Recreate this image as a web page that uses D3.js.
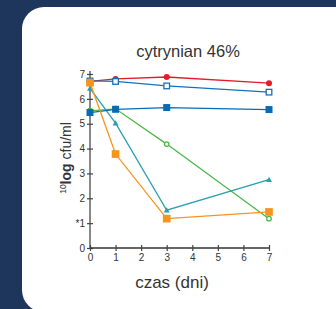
<!DOCTYPE html>
<html>
<head>
<meta charset="utf-8">
<script src="https://cdn.jsdelivr.net/npm/d3@7"></script>
<style>
  body { margin: 0; background: #1f365c; }
  svg { display: block; font-family: "Liberation Sans", Arial, sans-serif; }
</style>
</head>
<body>
<div id="chart"></div>
<script>
const days = [0, 1, 3, 7];
const xTicks = [0, 1, 2, 3, 4, 5, 6, 7];
const yTicks = [0, 1, 2, 3, 4, 5, 6, 7];
const yTickLabels = ['0', '*1', '2', '3', '4', '5', '6', '7'];

const redCircles = [6.7, 6.8, 6.88, 6.63];
const blueOpenSquares = [6.72, 6.7, 6.52, 6.27];
const blueSquares = [5.45, 5.58, 5.65, 5.57];
const greenOpenCircles = [5.52, 5.6, 4.18, 1.18];
const tealTriangles = [6.42, 5.02, 1.52, 2.75];
const orangeSquares = [6.65, 3.78, 1.18, 1.45];

const series = [
  { values: greenOpenCircles, color: '#4db848', shape: 'circle', open: true, size: 2.3 },
  { values: tealTriangles, color: '#2a9fb0', shape: 'triangle', open: false, size: 3 },
  { values: redCircles, color: '#e8192c', shape: 'circle', open: false, size: 3 },
  { values: blueOpenSquares, color: '#1a6fb8', shape: 'square', open: true, size: 4 },
  { values: blueSquares, color: '#0a6bb5', shape: 'square', open: false, size: 5 },
  { values: orangeSquares, color: '#f7941d', shape: 'square', open: false, size: 5.5 }
];

const W = 336, H = 309;
const svg = d3.select('#chart').append('svg').attr('width', W).attr('height', H);

// white card
svg.append('rect')
  .attr('x', 22).attr('y', 7).attr('width', 340).attr('height', 305)
  .attr('rx', 22).attr('fill', '#ffffff');

const x = d3.scaleLinear().domain([0, 7]).range([90, 269]);
const y = d3.scaleLinear().domain([0, 7]).range([248, 74]);

// title
svg.append('text').attr('x', 188).attr('y', 57).attr('text-anchor', 'middle')
  .attr('font-size', 16.5).attr('fill', '#333').text('cytrynian 46%');

// axes
const yAxis = svg.append('g').attr('transform', 'translate(90,0)')
  .call(d3.axisLeft(y).tickValues(yTicks).tickFormat((d, i) => yTickLabels[i]).tickSize(3).tickPadding(2));
yAxis.select('.domain').attr('d', `M0,${y(0)}V${y(7) - 3}`).attr('stroke', '#888').attr('stroke-width', 2);
yAxis.selectAll('.tick line').attr('x1', 3).attr('x2', -3).attr('stroke', '#444').attr('stroke-width', 1.2);
yAxis.selectAll('.tick text').attr('font-size', 10).attr('fill', '#333');

const xAxis = svg.append('g').attr('transform', `translate(0,${y(0)})`)
  .call(d3.axisBottom(x).tickValues(xTicks).tickFormat(d3.format('d')).tickSize(3).tickPadding(3));
xAxis.select('.domain').attr('d', `M${x(0)},0H${x(7)}`).attr('stroke', '#333').attr('stroke-width', 1.5);
xAxis.selectAll('.tick line').attr('y1', -3).attr('y2', 3).attr('stroke', '#444').attr('stroke-width', 1.2);
xAxis.selectAll('.tick text').attr('font-size', 10).attr('fill', '#333');

// axis titles
svg.append('text').attr('x', 172).attr('y', 288).attr('text-anchor', 'middle')
  .attr('font-size', 17).attr('fill', '#333').text('czas (dni)');

const yl = svg.append('text').attr('transform', 'translate(71,158) rotate(-90)')
  .attr('text-anchor', 'middle').attr('font-size', 14).attr('fill', '#333');
yl.append('tspan').attr('font-size', 8.5).attr('dy', -5).text('10');
yl.append('tspan').attr('font-weight', 'bold').attr('dy', 5).text('log');
yl.append('tspan').text(' cfu/ml');

// lines and markers
const line = d3.line().x((d, i) => x(days[i])).y(d => y(d));
series.forEach(s => {
  svg.append('path').datum(s.values).attr('d', line)
    .attr('fill', 'none').attr('stroke', s.color).attr('stroke-width', 1.3);
  const g = svg.append('g');
  s.values.forEach((v, i) => {
    const cx = x(days[i]), cy = y(v), r = s.size;
    let m;
    if (s.shape === 'circle') {
      m = g.append('circle').attr('cx', cx).attr('cy', cy).attr('r', r);
    } else if (s.shape === 'square') {
      m = g.append('rect').attr('x', cx - r / 2 * 1.4).attr('y', cy - r / 2 * 1.4)
        .attr('width', r * 1.4).attr('height', r * 1.4);
    } else {
      m = g.append('path').attr('d', `M${cx},${cy - r}L${cx + r},${cy + r * 0.8}L${cx - r},${cy + r * 0.8}Z`);
    }
    if (s.open) m.attr('fill', '#fff').attr('stroke', s.color).attr('stroke-width', 1.3);
    else m.attr('fill', s.color);
  });
});
</script>
</body>
</html>
